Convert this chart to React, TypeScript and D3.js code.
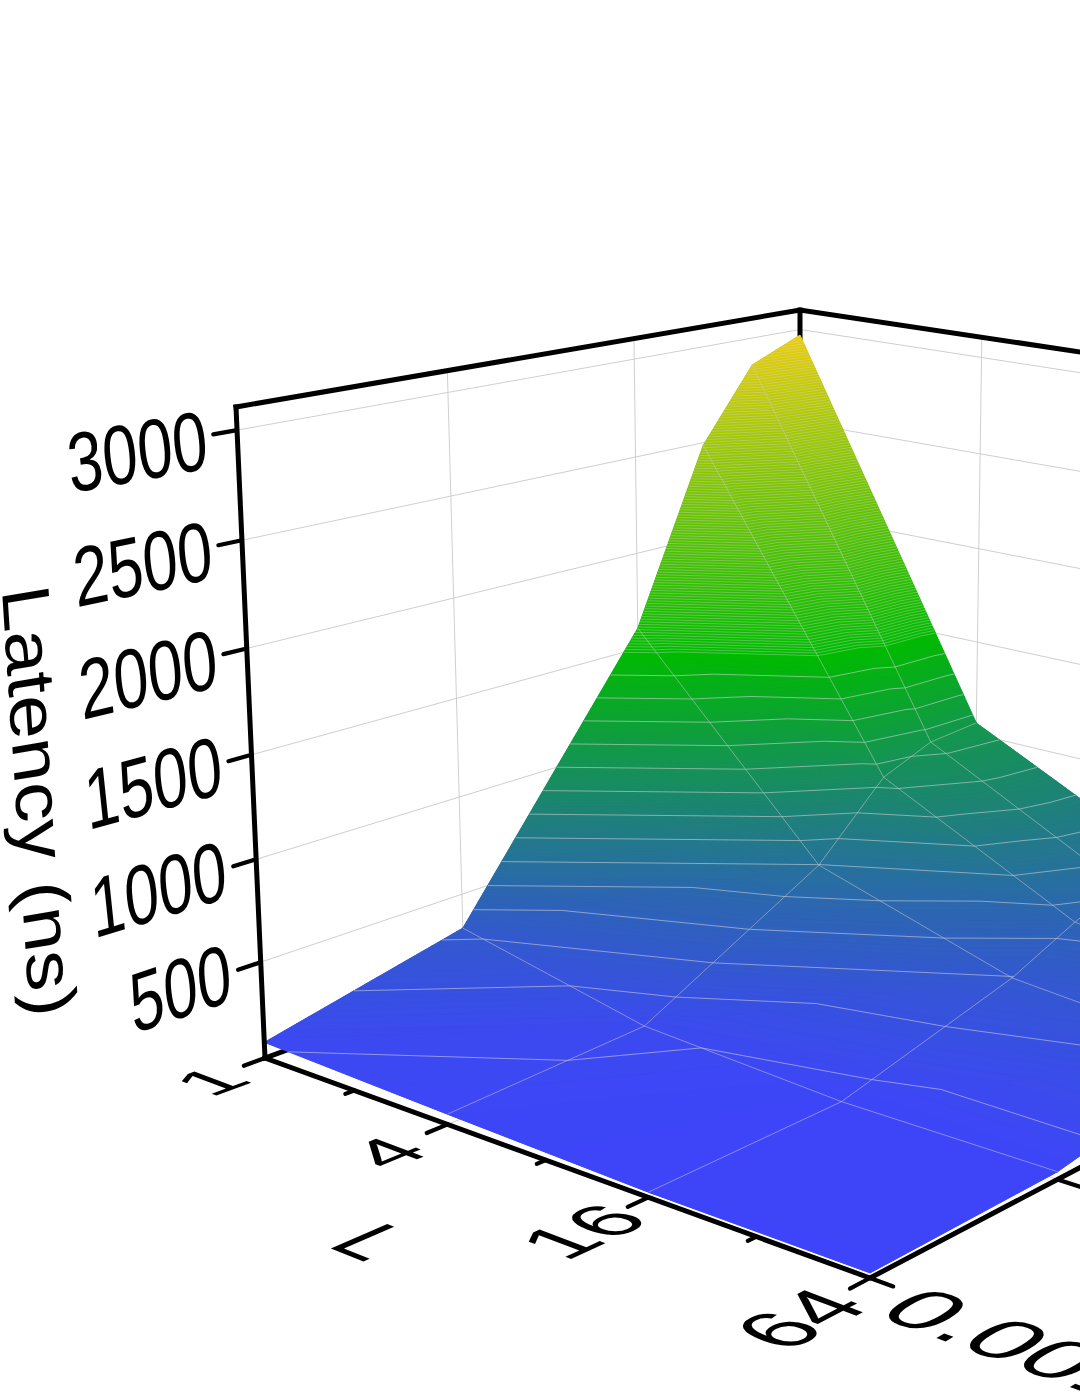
import React from "react";
import * as d3 from "d3";

// ---- data ----
const L_VALUES = [1, 4, 16, 64];
const L_MINOR = [2, 8, 32];
const RATE_VALUES = [0.001, 0.01, 0.1, 0.25, 0.5, 1];
const RATE_TICKS = [0.001, 0.01, 0.1, 1];
const RATE_LABELS = ["0.001", "0.01", "0.1", "1"];
const Z_TICKS = [500, 1000, 1500, 2000, 2500, 3000];
const LAT_L1 = [104, 324, 1607, 2487, 2858, 2970];
const LAT_L4 = [75, 117, 598, 940, 1042, 1062];
const LAT_L16 = [50, 60, 296, 444, 531, 573];
const LAT_L64 = [48, 62, 215, 300, 340, 360];
const LATENCY = [LAT_L1, LAT_L4, LAT_L16, LAT_L64];
const Z_RANGE = [26, 3104];

// ---- projection (projective frame from the box corners) ----
const O = [265, 1058], B = [870, 1278], C = [800, 862], Z = [236, 407], T = [800, 310];
const gamma = (O[0] - T[0]) / (Z[0] - T[0]);
const beta = (O[1] - T[1] - gamma * (Z[1] - T[1])) / (C[1] - T[1]);
const alpha = 0.865;
const uS = d3.scaleLog().base(2).domain([1, 64]).range([0, 1]);
const vS = d3.scaleLog().base(10).domain([0.001, 1]).range([0, 1]);
const zS = d3.scaleLinear().domain(Z_RANGE).range([0, 1]);
const vec = (k: number, p: number[]) => [k * p[0] - O[0], k * p[1] - O[1], k - 1];
const aV = vec(alpha, B), bV = vec(beta, C), cV = vec(gamma, Z);
type Pt = [number, number];
function proj(u: number, v: number, z: number): Pt {
  const w = 1 + u * aV[2] + v * bV[2] + z * cV[2];
  return [
    (O[0] + u * aV[0] + v * bV[0] + z * cV[0]) / w,
    (O[1] + u * aV[1] + v * bV[1] + z * cV[1]) / w,
  ];
}
function jac(u: number, v: number, z: number, axis: number): Pt {
  const e = 1e-3;
  const a = proj(u + (axis === 0 ? e : 0), v + (axis === 1 ? e : 0), z);
  const b = proj(u - (axis === 0 ? e : 0), v - (axis === 1 ? e : 0), z);
  return [(a[0] - b[0]) / (2 * e), (a[1] - b[1]) / (2 * e)];
}
const lineGen = d3.line<Pt>();
const seg = (pts: Pt[]) => lineGen(pts) as string;

// ---- colours and levels ----
const color = d3.scaleLinear<string>()
  .domain([50, 1500, 3000])
  .range(["rgb(62,68,250)", "rgb(0,187,0)", "rgb(240,205,10)"])
  .clamp(true);
const BAND = 12.5;
const bandLevels = d3.range(0, 3100, BAND);
const contourLevelsLow = d3.range(100, 1500, 100);
const contourLevelsHigh = d3.range(1500, 2975, BAND);

type V3 = [number, number, number]; // u, v, latency
const uNodes = L_VALUES.map((d) => uS(d));
const vNodes = RATE_VALUES.map((d) => vS(d));
const triangles: V3[][] = [];
for (let i = 0; i < uNodes.length - 1; i++) {
  for (let j = vNodes.length - 2; j >= 0; j--) {
    const n = (a: number, b: number): V3 => [uNodes[a], vNodes[b], LATENCY[a][b]];
    triangles.push([n(i, j), n(i, j + 1), n(i + 1, j + 1)]);
    triangles.push([n(i, j), n(i + 1, j + 1), n(i + 1, j)]);
  }
}
const p3 = (q: V3) => proj(q[0], q[1], zS(q[2]));
function clip(poly: V3[], lev: number, keepAbove: boolean): V3[] {
  const out: V3[] = [];
  for (let i = 0; i < poly.length; i++) {
    const a = poly[i], b = poly[(i + 1) % poly.length];
    const ai = keepAbove ? a[2] >= lev : a[2] <= lev;
    const bi = keepAbove ? b[2] >= lev : b[2] <= lev;
    if (ai) out.push(a);
    if (ai !== bi) {
      const t = (lev - a[2]) / (b[2] - a[2]);
      out.push([a[0] + t * (b[0] - a[0]), a[1] + t * (b[1] - a[1]), lev]);
    }
  }
  return out;
}
const bands: { d: string; c: string }[] = [];
const contoursLow: string[] = [];
const contoursHigh: string[] = [];
function contourOf(tri: V3[], lev: number): string | null {
  const pts: Pt[] = [];
  for (let k = 0; k < 3; k++) {
    const a = tri[k], b = tri[(k + 1) % 3];
    if ((a[2] - lev) * (b[2] - lev) < 0) {
      const t = (lev - a[2]) / (b[2] - a[2]);
      pts.push(p3([a[0] + t * (b[0] - a[0]), a[1] + t * (b[1] - a[1]), lev]));
    }
  }
  return pts.length === 2 ? seg(pts) : null;
}
const baseTris: { d: string; c: string }[] = [];
for (const tri of triangles) {
  const zs = tri.map((q) => q[2]);
  const lo = d3.min(zs) as number, hi = d3.max(zs) as number;
  baseTris.push({ d: seg(tri.map(p3)) + "Z", c: color((lo + hi) / 2) });
  for (const lev of bandLevels) {
    if (lev + BAND < lo || lev > hi) continue;
    let poly = clip(tri, lev, true);
    if (poly.length) poly = clip(poly, lev + BAND, false);
    if (poly.length < 3) continue;
    bands.push({ d: seg(poly.map(p3)) + "Z", c: color(lev + BAND / 2) });
  }
  for (const lev of contourLevelsLow) {
    const c = contourOf(tri, lev);
    if (c) contoursLow.push(c);
  }
  for (const lev of contourLevelsHigh) {
    const c = contourOf(tri, lev);
    if (c) contoursHigh.push(c);
  }
}
const meshLines: string[] = [];
for (let i = 1; i < uNodes.length - 1; i++)
  meshLines.push(seg(vNodes.map((v, j) => proj(uNodes[i], v, zS(LATENCY[i][j])))));
for (let j = 1; j < vNodes.length - 1; j++)
  meshLines.push(seg(uNodes.map((u, i) => proj(u, vNodes[j], zS(LATENCY[i][j])))));

const zTick = Z_TICKS.map((d) => zS(d));
const vTick = RATE_TICKS.map((d) => vS(d));
const uTick = L_VALUES.map((d) => uS(d));
const grid: string[] = [];
zTick.forEach((z) => {
  grid.push(seg([proj(0, 0, z), proj(0, 1, z)]));
  grid.push(seg([proj(0, 1, z), proj(1, 1, z)]));
});
vTick.slice(1, -1).forEach((v) => {
  grid.push(seg([proj(0, v, 0), proj(0, v, 1)]));
  grid.push(seg([proj(0, v, 0), proj(1, v, 0)]));
});
uTick.slice(1, -1).forEach((u) => {
  grid.push(seg([proj(u, 1, 0), proj(u, 1, 1)]));
  grid.push(seg([proj(u, 0, 0), proj(u, 1, 0)]));
});

const FS = 60;
const FONT = "'Liberation Sans', Arial, sans-serif";
function mat(e1: Pt, e2: Pt, p: Pt) {
  return `matrix(${e1[0]} ${e1[1]} ${e2[0]} ${e2[1]} ${p[0]} ${p[1]})`;
}
const scaleTo = (v: Pt, len: number): Pt => {
  const l = Math.hypot(v[0], v[1]);
  return [(v[0] / l) * len, (v[1] / l) * len];
};
const mul = (v: Pt, k: number): Pt => [v[0] * k, v[1] * k];

export default function App() {
  const thick = { stroke: "#000", strokeWidth: 5, fill: "none", strokeLinecap: "square" as const };
  const tick = { stroke: "#000", strokeWidth: 4.2, fill: "none", strokeLinecap: "round" as const };
  return (
    <svg width={1080} height={1397} viewBox="0 0 1080 1397"
      style={{ position: "fixed", left: 0, top: 0, background: "#fff" }} fontFamily={FONT}>
      {/* walls and floor */}
      <g stroke="#cfcfcf" strokeWidth={1} fill="none">
        {grid.map((d, i) => <path key={i} d={d} />)}
      </g>
      <g {...thick}>
        <path d={seg([proj(0, 0, 0), proj(0, 1, 0), proj(1, 1, 0)])} />
        <path d={seg([proj(0, 1, 0), proj(0, 1, 1)])} />
        <path d={seg([proj(0, 0, 1), proj(0, 1, 1), proj(1, 1, 1)])} />
      </g>
      {/* surface */}
      <g>
        {baseTris.map((b, i) => <path key={i} d={b.d} fill={b.c} />)}
        {bands.map((b, i) => <path key={i} d={b.d} fill={b.c} stroke={b.c} strokeWidth={0.9} />)}
      </g>
      <g stroke="#d8d8d8" strokeOpacity={0.7} strokeWidth={0.8} fill="none">
        {contoursLow.map((d, i) => <path key={i} d={d} />)}
      </g>
      <g stroke="#dddddd" strokeOpacity={0.5} strokeWidth={0.7} fill="none">
        {contoursHigh.map((d, i) => <path key={i} d={d} />)}
      </g>
      <g stroke="#cccccc" strokeOpacity={0.7} strokeWidth={0.75} fill="none">
        {meshLines.map((d, i) => <path key={i} d={d} />)}
      </g>
      {/* front frame */}
      <g {...thick}>
        <path d={seg([proj(0, 0, 1), proj(0, 0, 0), proj(1, 0, 0), proj(1, 1, 0)])} />
      </g>
      <g {...tick}>
        {zTick.map((z, i) => <path key={i} d={seg([proj(0, 0, z), proj(0, -0.035, z)])} />)}
        {uTick.map((u, i) => <path key={i} d={seg([proj(u, 0, 0), proj(u, -0.033, 0)])} />)}
        {L_MINOR.map((d, i) => <path key={i} d={seg([proj(uS(d), 0, 0), proj(uS(d), -0.014, 0)])} />)}
        {vTick.map((v, i) => <path key={i} d={seg([proj(1, v, 0), proj(1.033, v, 0)])} />)}
      </g>
      {/* z axis labels */}
      {Z_TICKS.map((d) => {
        const z = zS(d);
        const p = proj(0, 0, z);
        return (
          <text key={d} fontSize={FS} textAnchor="end"
            transform={mat(scaleTo(jac(0, 0, z, 1), 1.06), [0.147, 1.39], [p[0] - 27, p[1] + 38])}>
            {d}
          </text>
        );
      })}
      <text fontSize={FS} transform={mat([0.085, 1.3], [-1.117, 0.186], [2, 590])}>Latency (ns)</text>
      {/* L axis labels, lying on the floor */}
      {L_VALUES.map((d) => {
        const u = uS(d), v = -0.085 - 0.03 * u;
        const p = proj(u, v, 0);
        return (
          <text key={d} fontSize={FS} textAnchor="middle" y={21.5}
            transform={mat(mul(jac(u, v, 0, 1), 0.00205), mul(jac(u, v, 0, 0), 0.002), [p[0], p[1] + 3])}>
            {d}
          </text>
        );
      })}
      <text fontSize={FS} textAnchor="middle" y={21.5}
        transform={mat(scaleTo(jac(0.515, -0.272, 0, 0), 1.33),
          scaleTo(mul(jac(0.515, -0.272, 0, 1), -1), 1.49), proj(0.515, -0.272, 0))}>
        L
      </text>
      {/* rate axis labels */}
      {RATE_TICKS.map((d, i) => {
        const v = vS(d) - 0.02, u = 1.225 + (i > 0 ? 0.03 : 0);
        return (
          <text key={d} fontSize={FS} textAnchor="middle" y={21.5}
            transform={mat(mul(jac(u, v, 0, 0), 0.00215), mul(jac(u, v, 0, 1), -0.00206), proj(u, v, 0))}>
            {RATE_LABELS[i]}
          </text>
        );
      })}
    </svg>
  );
}
